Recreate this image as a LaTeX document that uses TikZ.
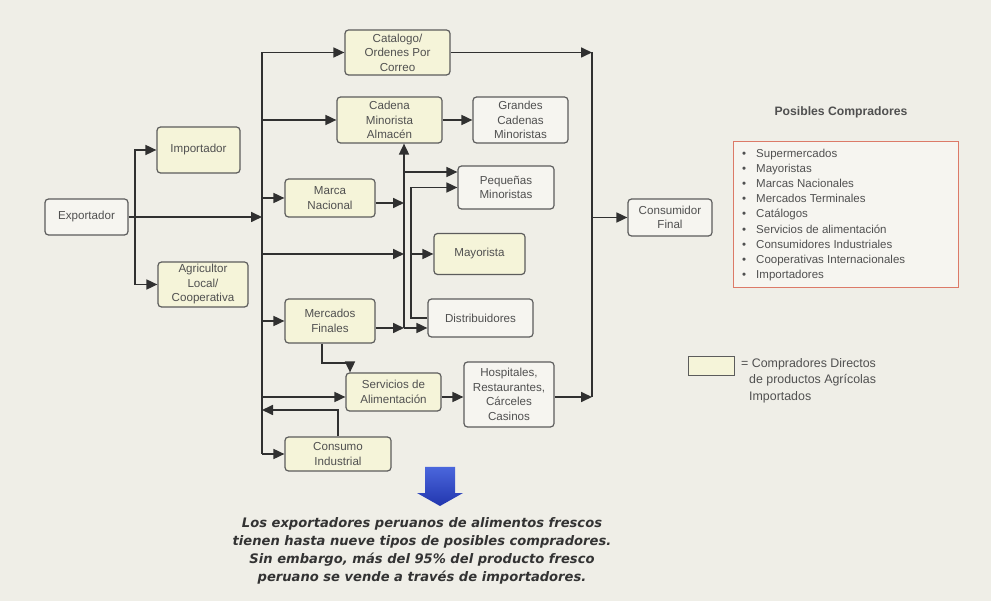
\documentclass[tikz,border=0pt]{standalone}
\usepackage{fontspec}
\setmainfont{Liberation Sans}
\newfontfamily\dejafont{DejaVu Sans}
\usetikzlibrary{arrows.meta}
\definecolor{bg}{HTML}{EFEEE7}
\definecolor{yfill}{HTML}{F5F4D9}
\definecolor{wfill}{HTML}{F6F5F0}
\definecolor{bord}{HTML}{5C5C5C}
\definecolor{txt}{HTML}{505050}
\definecolor{lin}{HTML}{303030}
\definecolor{redb}{HTML}{DC7A68}
\definecolor{blueA}{HTML}{4A66DC}
\definecolor{blueB}{HTML}{2236AE}
\begin{document}
\begin{tikzpicture}[x=1pt,y=-1pt,
  box/.style={draw=bord, line width=1.2pt, rounded corners=3.5pt, align=center,
    inner sep=0pt, text=txt, font=\fontsize{11.6}{14.5}\selectfont},
  ybox/.style={box, fill=yfill},
  wbox/.style={box, fill=wfill},
  arr/.style={draw=lin, line width=1.7pt, -{Triangle[length=11pt,width=10pt]}},
  ln/.style={draw=lin, line width=1.7pt},
]
\fill[bg] (0,0) rectangle (991,601);
\useasboundingbox (0,0) rectangle (991,601);

% nodes
\node[wbox, minimum width=83pt, minimum height=36pt] (exp) at (86.5,217) {Exportador};
\node[ybox, minimum width=83pt, minimum height=46pt] (imp) at (198.5,150) {Importador};
\node[ybox, minimum width=90pt, minimum height=45pt] (agr) at (203,284.5) {Agricultor\\Local/\\Cooperativa};
\node[ybox, minimum width=105pt, minimum height=45pt] (cat) at (397.5,52.5) {Catalogo/\\Ordenes Por\\Correo};
\node[ybox, minimum width=105pt, minimum height=46pt] (cad) at (389.5,120) {Cadena\\Minorista\\Almacén};
\node[wbox, minimum width=95pt, minimum height=46pt] (gra) at (520.5,120) {Grandes\\Cadenas\\Minoristas};
\node[ybox, minimum width=90pt, minimum height=38pt] (mar) at (330,198) {Marca\\Nacional};
\node[wbox, minimum width=96pt, minimum height=43pt] (peq) at (506,187.5) {Pequeñas\\Minoristas};
\node[ybox, minimum width=91pt, minimum height=41pt] (may) at (479.5,254) {Mayorista};
\node[wbox, minimum width=105pt, minimum height=38pt] (dis) at (480.5,318) {Distribuidores};
\node[ybox, minimum width=90pt, minimum height=44pt] (mer) at (330,321) {Mercados\\Finales};
\node[ybox, minimum width=95pt, minimum height=38pt] (ser) at (393.5,392) {Servicios de\\Alimentación};
\node[wbox, minimum width=90pt, minimum height=65pt] (hos) at (509,394.5) {Hospitales,\\Restaurantes,\\Cárceles\\Casinos};
\node[ybox, minimum width=106pt, minimum height=34pt] (con) at (338,454) {Consumo\\Industrial};
\node[wbox, minimum width=84pt, minimum height=37pt] (fin) at (670,217.5) {Consumidor\\Final};

% coordinates
\coordinate (bus) at (262,0);
\coordinate (j1) at (135,217);
\coordinate (bT) at (262,52.5);
\coordinate (bB) at (262,454);
\coordinate (b254) at (262,254);
\coordinate (ta254) at (404,254);
\coordinate (ta) at (404,0);
\coordinate (taB) at (404,328);
\coordinate (ta172) at (404,172);
\coordinate (tb) at (411,0);
\coordinate (tb254) at (411,254);
\coordinate (r1) at (262,410);
\coordinate (m1) at (350,363);
\coordinate (rb) at (592,0);
\coordinate (rbT) at (592,52.5);
\coordinate (rbB) at (592,397);
\coordinate (rbF) at (592,217.5);

% left part
\draw[arr] (exp.east) -- (exp.east -| bus);
\draw[arr] (j1) |- (imp.west);
\draw[arr] (j1) |- (agr.west);

% main bus
\draw[ln] (bT) -- (bB);
\draw[arr] (bT) -- (cat.west);
\draw[arr] (cad.west -| bus) -- (cad.west);
\draw[arr] (mar.west -| bus) -- (mar.west);
\draw[arr] (mer.west -| bus) -- (mer.west);
\draw[arr] ([yshift=-5pt]ser.west -| bus) -- ([yshift=-5pt]ser.west);
\draw[arr] (bB) -- (con.west);
\draw[arr] (con.north) |- (r1);
\draw[arr] (b254) -- (ta254);

% trunk A
\draw[arr] (taB) -- (cad.south -| ta);
\draw[arr] ([yshift=-5pt]mar.east) -- ([yshift=-5pt]mar.east -| ta);
\draw[arr] ([yshift=-7pt]mer.east) -- ([yshift=-7pt]mer.east -| ta);
\draw[arr] (taB) -- (taB -| dis.west);
\draw[arr] (ta172) -- (ta172 -| peq.west);

% trunk B
\draw[arr] (dis.west) -| (tb |- peq.west) -- (peq.west);
\draw[arr] (tb254) -- (may.west);

% others
\draw[arr] (cad.east) -- (gra.west);
\draw[arr] ([xshift=-8pt]mer.south) |- (m1) -- (m1 |- ser.north);
\draw[arr] ([yshift=-5pt]ser.east) -- ([yshift=-5pt]ser.east -| hos.west);

% right bus
\draw[ln] (rbT) -- (rbB);
\draw[arr] (cat.east) -- (rbT);
\draw[arr] (rbB -| hos.east) -- (rbB);
\draw[arr] (rbF) -- (fin.west);

% legend: posibles compradores
\node[font=\fontsize{12.2}{14}\selectfont\bfseries, text=txt] (tit) at (841,112) {Posibles Compradores};
\node[draw=redb, line width=1pt, fill=wfill, minimum width=225pt, minimum height=146pt, inner sep=0pt] (lst) at (845.5,215) {};
\node[anchor=north west, inner sep=0pt, text=txt, font=\fontsize{11.5}{15.1}\selectfont, align=left] (items) at (742,149)
{•\hspace{10pt}Supermercados\\
 •\hspace{10pt}Mayoristas\\
 •\hspace{10pt}Marcas Nacionales\\
 •\hspace{10pt}Mercados Terminales\\
 •\hspace{10pt}Catálogos\\
 •\hspace{10pt}Servicios de alimentación\\
 •\hspace{10pt}Consumidores Industriales\\
 •\hspace{10pt}Cooperativas Internacionales\\
 •\hspace{10pt}Importadores};

% legend: directos
\node[draw=bord, line width=1pt, fill=yfill, minimum width=46pt, minimum height=19pt, inner sep=0pt] (lg) at (711,366.5) {};
\node[anchor=north west, inner sep=0pt, text=txt, font=\fontsize{12.4}{16.5}\selectfont, align=left] (lgt) at (741,358)
{= Compradores Directos\\\hspace{8pt}de productos Agrícolas\\\hspace{8pt}Importados};

% blue arrow
\shade[top color=blueA, bottom color=blueB] (425,467) -- (455,467) -- (455,493) -- (463,493) -- (440,506) -- (417,493) -- (425,493) -- cycle;

% bottom text
\node[align=center, text=black!80, font=\dejafont\bfseries\itshape\fontsize{13.1}{18}\selectfont] (note) at (422,551)
{Los exportadores peruanos de alimentos frescos\\
tienen hasta nueve tipos de posibles compradores.\\
Sin embargo, más del 95\% del producto fresco\\
peruano se vende a través de importadores.};
\end{tikzpicture}
\end{document}
